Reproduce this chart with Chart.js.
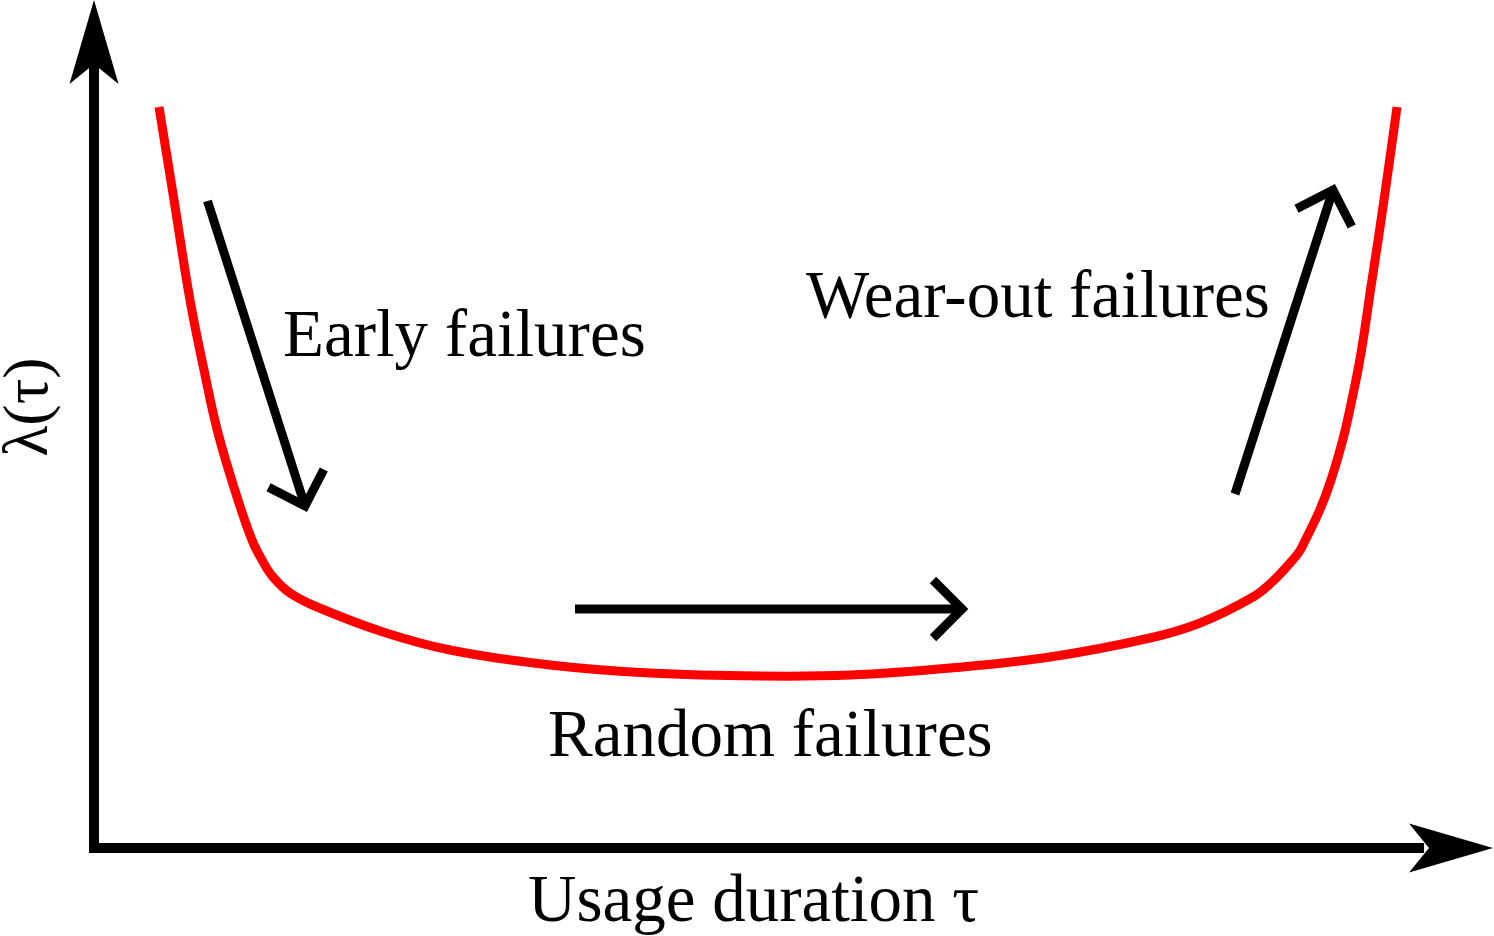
<!DOCTYPE html>
<html>
<head>
<meta charset="utf-8">
<script src="https://cdn.jsdelivr.net/npm/chart.js@4/dist/chart.umd.min.js"></script>
<style>
    html, body { margin: 0; padding: 0; background: #fff; }
    canvas { display: block; }
</style>
</head>
<body>
<canvas id="chart-bathtub" width="1494" height="936"></canvas>
<script>
// hazard rate curve (usage duration vs lambda)
const hazardX = [0.65, 0.80, 0.96, 1.10, 1.24, 1.44, 1.58, 1.68, 1.79, 1.96, 2.23, 2.89, 3.56, 4.56, 5.56, 6.66,
    7.56, 8.56, 9.56, 10.56, 11.06, 11.59, 11.78, 11.96, 12.08, 12.37, 12.62, 12.78, 12.90, 13.03];
const hazardY = [7.41, 6.48, 5.48, 4.78, 4.15, 3.48, 3.08, 2.88, 2.71, 2.55, 2.41, 2.16, 1.98, 1.83, 1.75, 1.72,
    1.73, 1.80, 1.91, 2.10, 2.25, 2.51, 2.66, 2.85, 3.01, 3.68, 4.68, 5.68, 6.48, 7.41];

// phase arrows (start, tip)
const earlyArrowX = [1.135, 2.11];
const earlyArrowY = [6.47, 3.42];
const randomArrowX = [4.81, 8.68];
const randomArrowY = [2.39, 2.39];
const wearArrowX = [11.41, 12.39];
const wearArrowY = [3.54, 6.58];

const phaseLabels = ['Early failures', 'Wear-out failures', 'Random failures'];
const xTitle = 'Usage duration τ';
const yTitle = 'λ(τ)';

const FONT = '"Liberation Serif", "Times New Roman", serif';

function toPoints(xs, ys) {
    return xs.map((x, i) => ({ x: x, y: ys[i] }));
}

function arrowDataset(xs, ys) {
    return {
        data: toPoints(xs, ys),
        borderColor: '#000000',
        borderWidth: 9,
        borderCapStyle: 'butt',
        pointRadius: 0,
        tension: 0,
        isArrow: true
    };
}

// white page, axes with filled heads, open chevrons on arrows, texts
const diagramPlugin = {
    id: 'diagram',
    beforeDraw(chart) {
        const ctx = chart.ctx;
        ctx.save();
        ctx.fillStyle = '#ffffff';
        ctx.fillRect(0, 0, chart.width, chart.height);
        ctx.restore();
    },
    afterDatasetsDraw(chart) {
        const ctx = chart.ctx;
        const xs = chart.scales.x;
        const ys = chart.scales.y;
        const ox = xs.getPixelForValue(0);
        const oy = ys.getPixelForValue(0);
        const area = chart.chartArea;

        ctx.save();
        ctx.fillStyle = '#000';
        ctx.strokeStyle = '#000';

        // axis lines
        ctx.lineWidth = 10;
        ctx.lineCap = 'butt';
        ctx.lineJoin = 'miter';
        ctx.beginPath();
        ctx.moveTo(ox, area.top + 60);
        ctx.lineTo(ox, oy);
        ctx.lineTo(area.right - 70, oy);
        ctx.stroke();

        // filled notched heads
        const head = (tx, ty, dx, dy) => {
            const L = 84, H = 24.5, N = 64;
            const nx = -dy, ny = dx;
            ctx.beginPath();
            ctx.moveTo(tx, ty);
            ctx.lineTo(tx - L * dx + H * nx, ty - L * dy + H * ny);
            ctx.lineTo(tx - N * dx, ty - N * dy);
            ctx.lineTo(tx - L * dx - H * nx, ty - L * dy - H * ny);
            ctx.closePath();
            ctx.fill();
        };
        head(ox, area.top, 0, -1);
        head(area.right - 1, oy, 1, 0);

        // open chevrons at the end of each phase arrow
        ctx.lineWidth = 9;
        chart.data.datasets.forEach((ds, i) => {
            if (!ds.isArrow) return;
            const pts = chart.getDatasetMeta(i).data;
            const a = pts[pts.length - 2], b = pts[pts.length - 1];
            const len = Math.hypot(b.x - a.x, b.y - a.y);
            const dx = (b.x - a.x) / len, dy = (b.y - a.y) / len;
            const back = Math.atan2(-dy, -dx);
            const w = 41, spread = Math.PI / 4;
            ctx.beginPath();
            ctx.moveTo(b.x + w * Math.cos(back + spread), b.y + w * Math.sin(back + spread));
            ctx.lineTo(b.x, b.y);
            ctx.lineTo(b.x + w * Math.cos(back - spread), b.y + w * Math.sin(back - spread));
            ctx.stroke();
        });

        // texts
        ctx.font = '67px ' + FONT;
        ctx.textBaseline = 'alphabetic';
        ctx.textAlign = 'left';
        ctx.fillText(phaseLabels[0], 283, 356);
        ctx.fillText(phaseLabels[1], 806, 317);
        ctx.fillText(phaseLabels[2], 548, 756);
        ctx.fillText(xTitle, 528, 921);

        ctx.save();
        ctx.translate(47, 407);
        ctx.rotate(-Math.PI / 2);
        ctx.textAlign = 'center';
        ctx.font = '64px ' + FONT;
        ctx.fillText(yTitle, 0, 0);
        ctx.restore();

        ctx.restore();
    }
};

const options = {
    type: 'line',
    data: {
        datasets: [
            {
                data: toPoints(hazardX, hazardY),
                borderColor: '#ff0000',
                borderWidth: 9,
                pointRadius: 0,
                tension: 0.4
            },
            arrowDataset(earlyArrowX, earlyArrowY),
            arrowDataset(randomArrowX, randomArrowY),
            arrowDataset(wearArrowX, wearArrowY)
        ]
    },
    options: {
        responsive: false,
        animation: false,
        events: [],
        clip: false,
        layout: { padding: { left: 94, right: 0, top: 0, bottom: 88 } },
        plugins: {
            legend: { display: false },
            tooltip: { enabled: false }
        },
        scales: {
            x: { type: 'linear', min: 0, max: 14, display: false },
            y: { type: 'linear', min: 0, max: 8.48, display: false }
        }
    },
    plugins: [diagramPlugin]
};

const ctx = document.getElementById('chart-bathtub').getContext('2d');
const chart = new Chart(ctx, options);
</script>
</body>
</html>
